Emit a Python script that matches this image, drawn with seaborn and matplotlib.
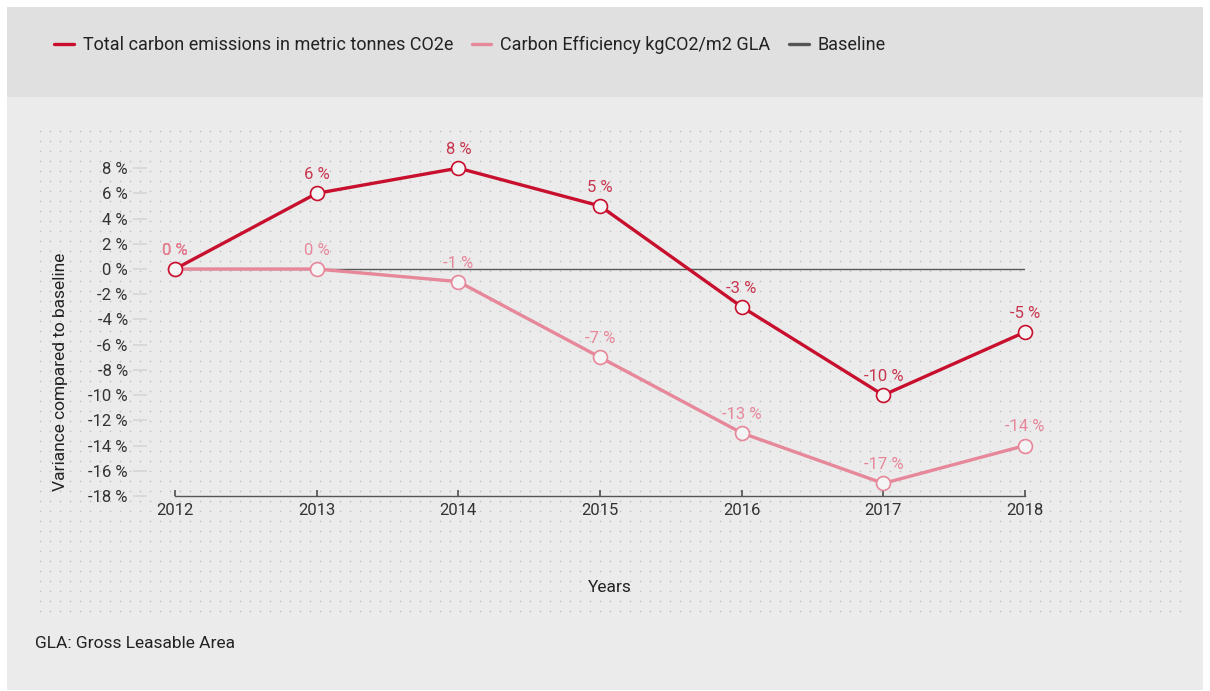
import numpy as np
import pandas as pd
import seaborn as sns
import matplotlib.pyplot as plt
from matplotlib.patches import Rectangle
from matplotlib.lines import Line2D

# data
years = [2012, 2013, 2014, 2015, 2016, 2017, 2018]
total_emissions = [0, 6, 8, 5, -3, -10, -5]
carbon_efficiency = [0, 0, -1, -7, -13, -17, -14]
y_ticks = list(range(-18, 9, 2))

name_total = "Total carbon emissions in metric tonnes CO2e"
name_eff = "Carbon Efficiency kgCO2/m2 GLA"
name_base = "Baseline"

c_total = "#c8102e"
c_eff = "#e7879a"
c_base = "#555555"

df = pd.DataFrame({
    "year": years * 2,
    "value": total_emissions + carbon_efficiency,
    "series": [name_total] * len(years) + [name_eff] * len(years),
})

sns.set_theme(style="white")
plt.rcParams["font.family"] = ["Roboto", "DejaVu Sans"]

W, H = 1210, 691
fig = plt.figure(figsize=(W / 100, H / 100), dpi=100)
fig.patch.set_facecolor("white")

# background panels + dot grid
bg = fig.add_axes([0, 0, 1, 1], zorder=0)
bg.set_xlim(0, W)
bg.set_ylim(H, 0)
bg.axis("off")
bg.add_patch(Rectangle((7, 7), 1196, 90, color="#e0e0e0", lw=0))
bg.add_patch(Rectangle((7, 97), 1196, 593, color="#ebebeb", lw=0))
gx, gy = np.meshgrid(np.arange(40, 1186, 10), np.arange(131, 613, 10))
bg.scatter(gx.ravel(), gy.ravel(), s=1.3, color="#c0c0c0", lw=0)

# main axes
ax = fig.add_axes([175 / W, 1 - 496 / H, 850 / W, (496 - 155.5) / H], zorder=1)
ax.patch.set_alpha(0)
ax.axhline(0, color=c_base, lw=1, zorder=1)
sns.lineplot(data=df, x="year", y="value", hue="series",
             palette={name_total: c_total, name_eff: c_eff},
             hue_order=[name_eff, name_total],
             lw=2.4, marker="o", markersize=10, markerfacecolor="#f4f4f4",
             markeredgewidth=1.2, legend=False, ax=ax, zorder=3)
# marker edge colors per series
for ln in ax.get_lines()[1:]:
    ln.set_markeredgecolor(ln.get_color())
    ln.set_clip_on(False)

for x, v in zip(years, total_emissions):
    ax.annotate(f"{v} %", (x, v), xytext=(0, 8), textcoords="offset points",
                ha="center", va="bottom", fontsize=12, color="#c8364f", zorder=4)
for x, v in zip(years, carbon_efficiency):
    ax.annotate(f"{v} %", (x, v), xytext=(0, 8), textcoords="offset points",
                ha="center", va="bottom", fontsize=12, color=c_eff, zorder=4)

ax.set_xlim(2012, 2018)
ax.set_ylim(-18, 9)
ax.set_xticks(years)
ax.set_xticklabels([str(y) for y in years])
ax.set_yticks(y_ticks)
ax.set_yticklabels([f"{t} %" for t in y_ticks])
ax.set_xlabel("")
ax.set_ylabel("")
for s in ["top", "right", "left"]:
    ax.spines[s].set_visible(False)
ax.spines["left"].set_position(("outward", 20))
ax.spines["bottom"].set_color(c_base)
ax.spines["bottom"].set_linewidth(1)
ax.tick_params(axis="y", left=True, length=10, width=1.2, color="#d6d6d6",
               pad=4, labelsize=12, labelcolor="#333333")
ax.tick_params(axis="x", bottom=True, direction="in", length=4, color=c_base,
               pad=5, labelsize=12, labelcolor="#333333")

fig.text(60 / W, 1 - 372 / H, "Variance compared to baseline", rotation=90,
         ha="center", va="center", fontsize=12.5, color="#222222")
fig.text(610 / W, 1 - 588 / H, "Years", ha="center", va="center",
         fontsize=12.5, color="#222222")
fig.text(35 / W, 1 - 643 / H, "GLA: Gross Leasable Area", ha="left",
         va="center", fontsize=12.5, color="#222222")

handles = [Line2D([], [], color=c, lw=2.4) for c in (c_total, c_eff, c_base)]
fig.legend(handles, [name_total, name_eff, name_base], loc="center left",
           bbox_to_anchor=(38 / W, 1 - 45 / H), ncol=3, frameon=False,
           fontsize=13, handlelength=1.1, handletextpad=0.5,
           columnspacing=1.0, labelcolor="#222222")

fig.savefig("out.png", dpi=100)
